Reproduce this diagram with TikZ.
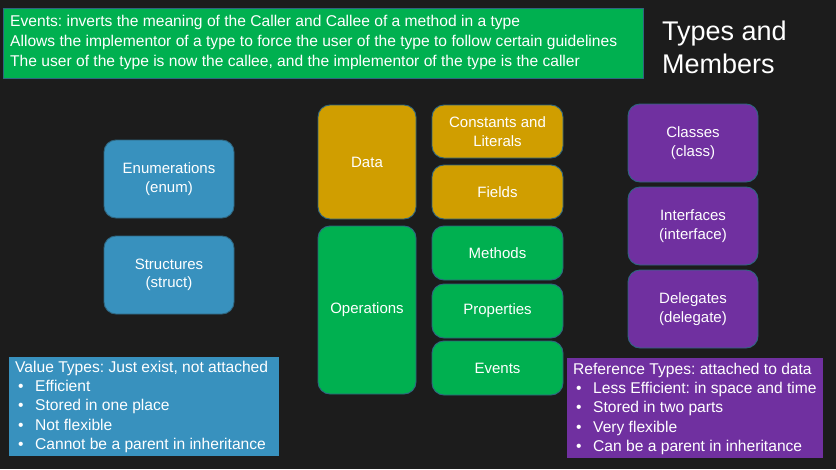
\documentclass[tikz,border=0pt]{standalone}
\usepackage{fontspec}
\setmainfont{Liberation Sans}
\frenchspacing
\definecolor{bgdark}{HTML}{1C1C1C}
\definecolor{edge}{HTML}{2F6680}
\definecolor{vblue}{HTML}{3891BE}
\definecolor{dgold}{HTML}{D09E00}
\definecolor{ogreen}{HTML}{00B050}
\definecolor{rpurple}{HTML}{7030A0}
\tikzset{
  card/.style={draw=edge, line width=0.9pt, rounded corners=12pt, text=white,
    align=center, inner sep=0pt, font=\fontsize{15}{18.5}\selectfont},
  panel/.style={draw=edge, line width=0.9pt, text=white},
  paneltext/.style={anchor=north west, inner sep=0pt, align=left, text=white,
    font=\fontsize{15.6}{19.2}\selectfont},
}
\newcommand{\bul}{\makebox[17pt][l]{\textbullet}}
\begin{document}
\begin{tikzpicture}[x=1pt,y=-1pt]
  \fill[bgdark] (0,0) rectangle (836,469);
  \useasboundingbox (0,0) rectangle (836,469);

  % banner about events
  \fill[ogreen, panel] (3,8) rectangle (643,78);
  \node[paneltext, font=\fontsize{15.6}{20}\selectfont] (banner) at (10,15)
    {Events: inverts the meaning of the Caller and Callee of a method in a type\\
     Allows the implementor of a type to force the user of the type to follow certain guidelines\\
     The user of the type is now the callee, and the implementor of the type is the caller};

  % title
  \node[anchor=north west, inner sep=0pt, align=left, text=white,
    font=\fontsize{27}{33}\selectfont] (title) at (662,21) {Types and\\Members};

  % value types
  \node[card, fill=vblue, minimum width=130pt, minimum height=78pt] (enum) at (169,179) {Enumerations\\(enum)};
  \node[card, fill=vblue, minimum width=130pt, minimum height=78pt] (struct) at (169,275) {Structures\\(struct)};

  % members
  \node[card, fill=dgold, minimum width=98pt, minimum height=114pt] (data) at (367,162) {Data};
  \node[card, fill=ogreen, minimum width=98pt, minimum height=168pt] (ops) at (367,310) {Operations};
  \node[card, fill=dgold, minimum width=131pt, minimum height=53pt] (const) at (497.5,131.5) {Constants and\\Literals};
  \node[card, fill=dgold, minimum width=131pt, minimum height=54pt] (fields) at (497.5,192) {Fields};
  \node[card, fill=ogreen, minimum width=131pt, minimum height=54pt] (methods) at (497.5,253) {Methods};
  \node[card, fill=ogreen, minimum width=131pt, minimum height=54pt] (props) at (497.5,311) {Properties};
  \node[card, fill=ogreen, minimum width=131pt, minimum height=54pt] (events) at (497.5,368) {Events};

  % reference types
  \node[card, fill=rpurple, minimum width=130pt, minimum height=78pt] (classes) at (693,143) {Classes\\(class)};
  \node[card, fill=rpurple, minimum width=130pt, minimum height=78pt] (ifaces) at (693,226) {Interfaces\\(interface)};
  \node[card, fill=rpurple, minimum width=130pt, minimum height=78pt] (delegs) at (693,309) {Delegates\\(delegate)};

  % value type notes
  \fill[vblue] (9,357) rectangle (279,456);
  \node[paneltext] (vnotes) at (15,361)
    {Value Types: Just exist, not attached\\
     \hspace*{3pt}\bul Efficient\\
     \hspace*{3pt}\bul Stored in one place\\
     \hspace*{3pt}\bul Not flexible\\
     \hspace*{3pt}\bul Cannot be a parent in inheritance};

  % reference type notes
  \fill[rpurple] (567,358) rectangle (823,458);
  \node[paneltext] (rnotes) at (573,363)
    {Reference Types: attached to data\\
     \hspace*{3pt}\bul Less Efficient: in space and time\\
     \hspace*{3pt}\bul Stored in two parts\\
     \hspace*{3pt}\bul Very flexible\\
     \hspace*{3pt}\bul Can be a parent in inheritance};
\end{tikzpicture}
\end{document}
